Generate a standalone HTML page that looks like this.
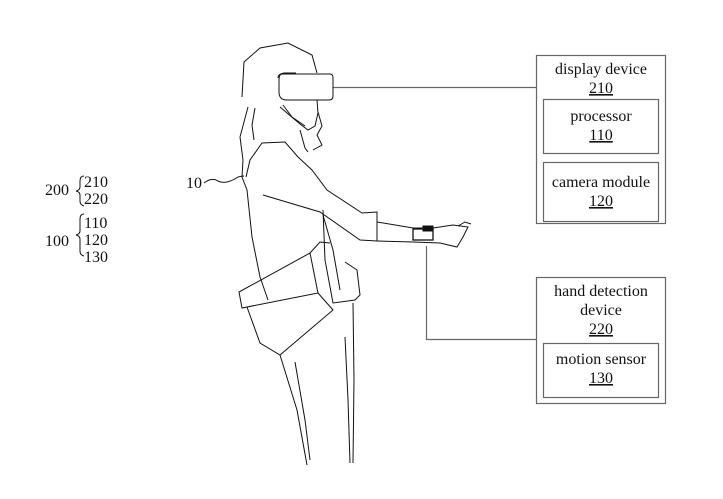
<!DOCTYPE html>
<html><head><style>
html,body{margin:0;padding:0;background:#fff;}
svg{display:block;}
text{font-family:"Liberation Serif",serif;font-size:16px;fill:#111;}
</style></head><body>
<svg width="723" height="499" viewBox="0 0 723 499" xmlns="http://www.w3.org/2000/svg">
<g fill="none" stroke="#666" stroke-width="1.2">
<rect x="536.5" y="55.5" width="129" height="168"/>
<rect x="543.5" y="99.5" width="115" height="54"/>
<rect x="543.5" y="162.5" width="115" height="59"/>
<rect x="536.5" y="277.5" width="129" height="126"/>
<rect x="543.5" y="343.5" width="115" height="54"/>
<line x1="333" y1="87.5" x2="536" y2="87.5"/>
<polyline points="426.5,246 426.5,339.5 536,339.5"/>
</g>
<g text-anchor="middle">
<text x="601" y="74">display device</text>
<text x="601" y="93" text-decoration="underline">210</text>
<text x="601" y="121">processor</text>
<text x="601" y="140" text-decoration="underline">110</text>
<text x="601" y="187">camera module</text>
<text x="601" y="206" text-decoration="underline">120</text>
<text x="601" y="296">hand detection</text>
<text x="601" y="315">device</text>
<text x="601" y="334" text-decoration="underline">220</text>
<text x="601" y="364">motion sensor</text>
<text x="601" y="383" text-decoration="underline">130</text>
</g>
<text x="45" y="195">200</text>
<text x="84" y="187">210</text>
<text x="84" y="204">220</text>
<text x="45" y="246">100</text>
<text x="84" y="228">110</text>
<text x="84" y="245">120</text>
<text x="84" y="262">130</text>
<text x="186" y="188">10</text>
<g fill="none" stroke="#111" stroke-width="1">
<path d="M84,176 q-4,0 -4,5 v6 q0,3 -4,4 q4,1 4,4 v6 q0,4 4,5"/>
<path d="M84,214 q-4,0 -4,5 v12 q0,3 -4,4 q4,1 4,4 v12 q0,4 4,5"/>
<path d="M204,183 q8,-6 14,-2 q8,4 20,-4 q4,-1 6,-1"/>
<polyline points="242,97 244,62 260,48 288,43 312,55 317,73"/>
<polyline points="248,107 240,137 243,160 242,177 247,190 252,237 260,277 268,300"/>
<polyline points="255,108 252,125 254,140"/>
<path d="M282,74 h48 q3,0 3,4 v18 q0,4 -4,4 h-42 q-8,0 -8,-8 v-12 q0,-6 3,-6z"/>
<path d="M278,78 q0,-4 6,-5 h12"/>
<polyline points="317,100 318,113 315,126 308,130 300,124 280,107"/>
<polyline points="283,105 292,117 305,126"/>
<polyline points="318,112 322,126 317,135 322,145 313,150"/>
<polyline points="300,130 305,148 308,152"/>
<polyline points="298,157 285,142 262,143 250,160 246,177"/>
<polyline points="298,157 312,170 327,190 362,213 377,212 377,241 360,240 320,212 263,195"/>
<polyline points="377,222 413,228 433,228 453,225 468,227 463,237 457,247 440,243 413,242 377,241"/>
<polyline points="458,226 465,222 471,224"/>
<rect x="413" y="229" width="20" height="11" stroke-width="1.3"/>
<rect x="423" y="226" width="10" height="5" fill="#111"/>
<polyline points="323,210 325,260 333,303 355,300 360,295 357,270 345,262"/>
<polyline points="323,215 333,250 340,290"/>
<polygon points="239,292 310,253 318,293 242,308"/>
<polyline points="247,307 260,343 280,355 333,310 318,293"/>
<polyline points="310,253 320,242 330,243"/>
<polyline points="280,355 297,410 307,465"/>
<polyline points="353,303 354,380 353,463"/>
<polyline points="345,337 348,400 350,463"/>
<polyline points="295,362 305,420 310,460"/>
</g>
</svg>
</body></html>
